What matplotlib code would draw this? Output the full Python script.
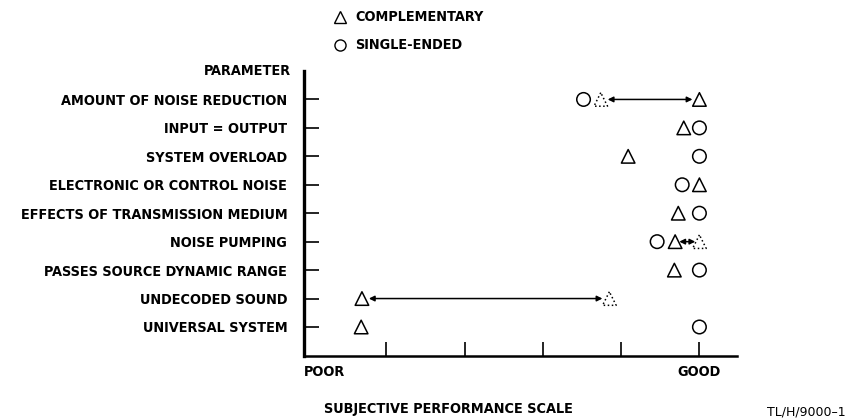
import numpy as np
import matplotlib.pyplot as plt
from matplotlib.lines import Line2D

plt.rcParams['font.family'] = ['DejaVu Sans']
plt.rcParams['font.stretch'] = 'condensed'
plt.rcParams['font.weight'] = 'bold'

# parameters, top to bottom
params = ["AMOUNT OF NOISE REDUCTION", "INPUT = OUTPUT", "SYSTEM OVERLOAD",
          "ELECTRONIC OR CONTROL NOISE", "EFFECTS OF TRANSMISSION MEDIUM",
          "NOISE PUMPING", "PASSES SOURCE DYNAMIC RANGE", "UNDECODED SOUND",
          "UNIVERSAL SYSTEM"]

# subjective scale: POOR = 0 ... GOOD = 5
comp = [5.0, 4.80, 4.09, 5.0, 4.73, 4.69, 4.68, 0.69, 0.68]
single = [3.52, 5.0, 5.0, 4.78, 5.0, 4.46, 5.0, 5.0, 5.0]

# dotted triangle = range a complementary system may reach (row, from, to)
ranges = [(0, 5.0, 3.74), (5, 4.69, 5.0), (7, 0.69, 3.85)]
# single-ended circles that are absent
no_single = [7]

rows = np.arange(len(params), 0, -1)
fs = 10.4

fig = plt.figure(figsize=(8.52, 4.2), dpi=100)
ax = fig.add_axes([304/852, 1 - 356/420, (737 - 304)/852, (356 - 71)/420])
ax.set_xlim(-0.05, 5.48)
ax.set_ylim(-0.02, 10.0)

for s in ['top', 'right']:
    ax.spines[s].set_visible(False)
ax.spines['left'].set_linewidth(2.4)
ax.spines['bottom'].set_linewidth(1.8)

ax.set_yticks(rows)
ax.set_yticklabels(params, fontsize=fs, fontweight='bold')
ax.tick_params(axis='y', direction='in', length=11, width=1.2, pad=12)
ax.set_xticks([1, 2, 3, 4, 5])
ax.set_xticklabels([])
ax.tick_params(axis='x', direction='in', length=10, width=1.2)

mk = dict(s=95, facecolors='none', edgecolors='black', linewidths=1.1, zorder=3)

sx = [v for i, v in enumerate(single) if i not in no_single]
sy = [r for i, r in enumerate(rows) if i not in no_single]
ax.scatter(sx, sy, marker='o', **mk)
ax.scatter(comp, rows, marker='^', **mk)

for i, x0, x1 in ranges:
    ax.scatter([x1], [rows[i]], marker='^', linestyles=':', **mk)
    sh = 5 if abs(x1 - x0) > 1 else 3
    ax.annotate('', xy=(x1, rows[i]), xytext=(x0, rows[i]),
                arrowprops=dict(arrowstyle='<|-|>', color='black', lw=1.1,
                                mutation_scale=8, shrinkA=sh, shrinkB=sh))

ax.text(-0.22, 10.0, "PARAMETER", ha='right', va='center', fontsize=fs,
        fontweight='bold')

fig.text(304/852, 1 - 372/420, "POOR", ha='left', va='center', fontsize=fs,
         fontweight='bold')
fig.text(699/852, 1 - 372/420, "GOOD", ha='center', va='center', fontsize=fs,
         fontweight='bold')
fig.text(448/852, 1 - 409/420, "SUBJECTIVE PERFORMANCE SCALE", ha='center',
         va='center', fontsize=fs, fontweight='bold')
fig.text(767/852, 1 - 412/420, "TL/H/9000\u20131", ha='left', va='center',
         fontsize=9, fontweight='normal', fontstretch='normal')

# legend
fig.add_artist(Line2D([340/852], [1 - 17/420], marker='^', markersize=8,
                      markerfacecolor='none', markeredgecolor='black',
                      markeredgewidth=1.0, linestyle='none'))
fig.add_artist(Line2D([340/852], [1 - 45/420], marker='o', markersize=8,
                      markerfacecolor='none', markeredgecolor='black',
                      markeredgewidth=1.0, linestyle='none'))
fig.text(355/852, 1 - 17/420, "COMPLEMENTARY", ha='left', va='center',
         fontsize=fs, fontweight='bold')
fig.text(355/852, 1 - 45/420, "SINGLE-ENDED", ha='left', va='center',
         fontsize=fs, fontweight='bold')

fig.savefig("out.png", dpi=100)
